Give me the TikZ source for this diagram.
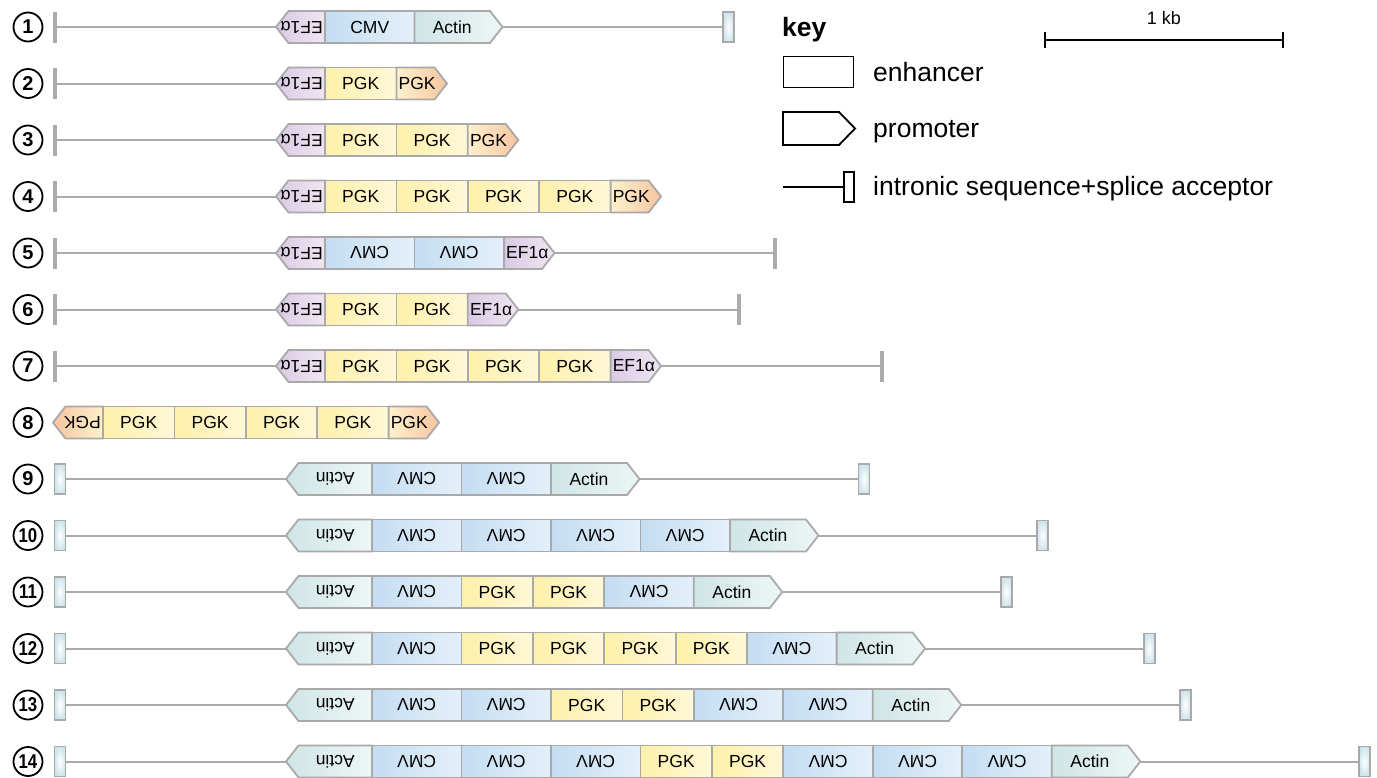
\documentclass[tikz,border=0pt]{standalone}
\usepackage{fontspec}
\setmainfont{Liberation Sans}
\usepackage{graphicx}

\definecolor{cellgray}{HTML}{A9A9A9}
\definecolor{linegray}{HTML}{ABABAB}
\definecolor{efA}{HTML}{DACAE4}
\definecolor{efB}{HTML}{EFE6F2}
\definecolor{cmvA}{HTML}{C4DDF2}
\definecolor{cmvB}{HTML}{E4F0FA}
\definecolor{actA}{HTML}{CFE5E6}
\definecolor{actB}{HTML}{EEF6F6}
\definecolor{pgkA}{HTML}{FFF0AA}
\definecolor{pgkB}{HTML}{FFF8D8}
\definecolor{orA}{HTML}{F5C5A0}
\definecolor{orB}{HTML}{FFF1CC}
\definecolor{boxA}{HTML}{CFE5EC}

\newcommand\cellfont{\fontsize{17.5}{20}\selectfont}
\newcommand\numfont{\bfseries\fontsize{20}{22}\selectfont}
\newcommand\keyfont{\fontsize{26.5}{30}\selectfont}
\newcommand\twod[1]{\scalebox{0.84}[1]{#1}}

% vertical position of construct #1
\newcommand\rowat[1]{\pgfmathsetmacro\ry{27+56.5*(#1-1)}}

% rectangular element: name, style, x1, x2, label, label angle
\newcommand\boxcell[6]{%
  \path[#2] (#3,\ry-16) rectangle (#4,\ry+16);
  \node[lbl, rotate=#6] (#1) at ({(#3+#4)/2},\ry) {#5};}
% element pointing right, label centred in the body
\newcommand\fwdtip[5]{%
  \path[#2] (#3,\ry-16) -- (#4,\ry-16) -- ({#4+12.5},\ry) -- (#4,\ry+16) -- (#3,\ry+16) -- cycle;
  \coordinate (#1-tip) at ({#4+12.5},\ry);
  \node[lbl] (#1) at ({(#3+#4)/2},\ry) {#5};}
% short element pointing right, label set from its flat end
\newcommand\fwdtipsmall[5]{%
  \path[#2] (#3,\ry-16) -- (#4,\ry-16) -- ({#4+12.5},\ry) -- (#4,\ry+16) -- (#3,\ry+16) -- cycle;
  \coordinate (#1-tip) at ({#4+12.5},\ry);
  \node[lbl, anchor=west] (#1) at ({#3+2},\ry) {#5};}
% element pointing left, label upside down and centred in the body
\newcommand\revtip[5]{%
  \path[#2] (#4,\ry-16) -- (#3,\ry-16) -- ({#3-12.5},\ry) -- (#3,\ry+16) -- (#4,\ry+16) -- cycle;
  \coordinate (#1-tip) at ({#3-12.5},\ry);
  \node[lbl, rotate=180] (#1) at ({(#3+#4)/2},\ry) {#5};}
% short element pointing left, upside-down label set from its flat end
\newcommand\revtipsmall[5]{%
  \path[#2] (#4,\ry-16) -- (#3,\ry-16) -- ({#3-12.5},\ry) -- (#3,\ry+16) -- (#4,\ry+16) -- cycle;
  \coordinate (#1-tip) at ({#3-12.5},\ry);
  \node[lbl, rotate=180, anchor=west] (#1) at ({#4-2},\ry) {#5};}

\tikzset{
  cellframe/.style={draw=cellgray, line width=1.8pt, line join=miter},
  ef/.style={cellframe, left color=efA, right color=efB},
  cmv/.style={cellframe, left color=cmvA, right color=cmvB},
  act/.style={cellframe, left color=actA, right color=actB},
  pgk/.style={cellframe, left color=pgkA, right color=pgkB},
  pgkof/.style={cellframe, left color=orB, right color=orA},
  pgkor/.style={cellframe, left color=orA, right color=orB},
  lbl/.style={inner sep=0pt, font=\cellfont},
  strand/.style={draw=linegray, line width=2pt},
  endtick/.style={fill=linegray, inner sep=0pt, minimum width=3.6pt, minimum height=31pt},
  sabox/.style={draw=cellgray, line width=1.8pt, inner color=white, outer color=boxA,
    inner sep=0pt, minimum width=11pt, minimum height=30pt},
  numcirc/.style={circle, draw=black, line width=1.8pt, minimum size=29pt, inner sep=0pt, font=\numfont},
  keyshape/.style={draw=black, line width=1.8pt},
  keytext/.style={inner sep=0pt, font=\keyfont, anchor=base west},
}

\begin{document}
\begin{tikzpicture}[x=1pt, y=-1pt]
\useasboundingbox[fill=white] (0,0) rectangle (1377,777);

% ---------- construct 1
\rowat{1}
\node[numcirc] (n1) at (28,\ry) {1};
\node[endtick] (r1s) at (55,\ry) {};
\revtipsmall{r1c1}{ef}{288.5}{325}{EF1α}
\boxcell{r1c2}{cmv}{325}{414.5}{CMV}{0}
\fwdtip{r1c3}{act}{414.5}{490}{Actin}
\node[sabox] (r1e) at (728.5,\ry) {};
\draw[strand] (r1s) -- (r1c1-tip);
\draw[strand] (r1c3-tip) -- (r1e);

% ---------- construct 2
\rowat{2}
\node[numcirc] (n2) at (28,\ry) {2};
\node[endtick] (r2s) at (55,\ry) {};
\revtipsmall{r2c1}{ef}{288.5}{325}{EF1α}
\boxcell{r2c2}{pgk}{325}{396.4}{PGK}{0}
\fwdtipsmall{r2c3}{pgkof}{396.4}{434.5}{PGK}
\draw[strand] (r2s) -- (r2c1-tip);

% ---------- construct 3
\rowat{3}
\node[numcirc] (n3) at (28,\ry) {3};
\node[endtick] (r3s) at (55,\ry) {};
\revtipsmall{r3c1}{ef}{288.5}{325}{EF1α}
\boxcell{r3c2}{pgk}{325}{396.4}{PGK}{0}
\boxcell{r3c3}{pgk}{396.4}{467.8}{PGK}{0}
\fwdtipsmall{r3c4}{pgkof}{467.8}{505.8}{PGK}
\draw[strand] (r3s) -- (r3c1-tip);

% ---------- construct 4
\rowat{4}
\node[numcirc] (n4) at (28,\ry) {4};
\node[endtick] (r4s) at (55,\ry) {};
\revtipsmall{r4c1}{ef}{288.5}{325}{EF1α}
\boxcell{r4c2}{pgk}{325}{396.4}{PGK}{0}
\boxcell{r4c3}{pgk}{396.4}{467.8}{PGK}{0}
\boxcell{r4c4}{pgk}{467.8}{539.2}{PGK}{0}
\boxcell{r4c5}{pgk}{539.2}{610.6}{PGK}{0}
\fwdtipsmall{r4c6}{pgkof}{610.6}{648.6}{PGK}
\draw[strand] (r4s) -- (r4c1-tip);

% ---------- construct 5
\rowat{5}
\node[numcirc] (n5) at (28,\ry) {5};
\node[endtick] (r5s) at (55,\ry) {};
\revtipsmall{r5c1}{ef}{288.5}{325}{EF1α}
\boxcell{r5c2}{cmv}{325}{414.5}{CMV}{180}
\boxcell{r5c3}{cmv}{414.5}{504}{CMV}{180}
\fwdtipsmall{r5c4}{ef}{504}{542}{EF1α}
\node[endtick] (r5e) at (775,\ry) {};
\draw[strand] (r5s) -- (r5c1-tip);
\draw[strand] (r5c4-tip) -- (r5e);

% ---------- construct 6
\rowat{6}
\node[numcirc] (n6) at (28,\ry) {6};
\node[endtick] (r6s) at (55,\ry) {};
\revtipsmall{r6c1}{ef}{288.5}{325}{EF1α}
\boxcell{r6c2}{pgk}{325}{396.4}{PGK}{0}
\boxcell{r6c3}{pgk}{396.4}{467.8}{PGK}{0}
\fwdtipsmall{r6c4}{ef}{467.8}{505.8}{EF1α}
\node[endtick] (r6e) at (739,\ry) {};
\draw[strand] (r6s) -- (r6c1-tip);
\draw[strand] (r6c4-tip) -- (r6e);

% ---------- construct 7
\rowat{7}
\node[numcirc] (n7) at (28,\ry) {7};
\node[endtick] (r7s) at (55,\ry) {};
\revtipsmall{r7c1}{ef}{288.5}{325}{EF1α}
\boxcell{r7c2}{pgk}{325}{396.4}{PGK}{0}
\boxcell{r7c3}{pgk}{396.4}{467.8}{PGK}{0}
\boxcell{r7c4}{pgk}{467.8}{539.2}{PGK}{0}
\boxcell{r7c5}{pgk}{539.2}{610.6}{PGK}{0}
\fwdtipsmall{r7c6}{ef}{610.6}{648.6}{EF1α}
\node[endtick] (r7e) at (882,\ry) {};
\draw[strand] (r7s) -- (r7c1-tip);
\draw[strand] (r7c6-tip) -- (r7e);

% ---------- construct 8
\rowat{8}
\node[numcirc] (n8) at (28,\ry) {8};
\revtipsmall{r8c1}{pgkor}{65.5}{103}{PGK}
\boxcell{r8c2}{pgk}{103}{174.4}{PGK}{0}
\boxcell{r8c3}{pgk}{174.4}{245.8}{PGK}{0}
\boxcell{r8c4}{pgk}{245.8}{317.2}{PGK}{0}
\boxcell{r8c5}{pgk}{317.2}{388.6}{PGK}{0}
\fwdtipsmall{r8c6}{pgkof}{388.6}{426.6}{PGK}

% ---------- construct 9
\rowat{9}
\node[numcirc] (n9) at (28,\ry) {9};
\node[sabox] (r9s) at (60,\ry) {};
\revtip{r9c1}{act}{298.5}{372}{Actin}
\boxcell{r9c2}{cmv}{372}{461.5}{CMV}{180}
\boxcell{r9c3}{cmv}{461.5}{551}{CMV}{180}
\fwdtip{r9c4}{act}{551}{627}{Actin}
\node[sabox] (r9e) at (864,\ry) {};
\draw[strand] (r9s) -- (r9c1-tip);
\draw[strand] (r9c4-tip) -- (r9e);

% ---------- construct 10
\rowat{10}
\node[numcirc] (n10) at (28,\ry) {\twod{10}};
\node[sabox] (r10s) at (60,\ry) {};
\revtip{r10c1}{act}{298.5}{372}{Actin}
\boxcell{r10c2}{cmv}{372}{461.5}{CMV}{180}
\boxcell{r10c3}{cmv}{461.5}{551}{CMV}{180}
\boxcell{r10c4}{cmv}{551}{640.5}{CMV}{180}
\boxcell{r10c5}{cmv}{640.5}{730}{CMV}{180}
\fwdtip{r10c6}{act}{730}{806}{Actin}
\node[sabox] (r10e) at (1042.5,\ry) {};
\draw[strand] (r10s) -- (r10c1-tip);
\draw[strand] (r10c6-tip) -- (r10e);

% ---------- construct 11
\rowat{11}
\node[numcirc] (n11) at (28,\ry) {\twod{11}};
\node[sabox] (r11s) at (60,\ry) {};
\revtip{r11c1}{act}{298.5}{372}{Actin}
\boxcell{r11c2}{cmv}{372}{461.5}{CMV}{180}
\boxcell{r11c3}{pgk}{461.5}{532.9}{PGK}{0}
\boxcell{r11c4}{pgk}{532.9}{604.3}{PGK}{0}
\boxcell{r11c5}{cmv}{604.3}{693.8}{CMV}{180}
\fwdtip{r11c6}{act}{693.8}{769.8}{Actin}
\node[sabox] (r11e) at (1006.3,\ry) {};
\draw[strand] (r11s) -- (r11c1-tip);
\draw[strand] (r11c6-tip) -- (r11e);

% ---------- construct 12
\rowat{12}
\node[numcirc] (n12) at (28,\ry) {\twod{12}};
\node[sabox] (r12s) at (60,\ry) {};
\revtip{r12c1}{act}{298.5}{372}{Actin}
\boxcell{r12c2}{cmv}{372}{461.5}{CMV}{180}
\boxcell{r12c3}{pgk}{461.5}{532.9}{PGK}{0}
\boxcell{r12c4}{pgk}{532.9}{604.3}{PGK}{0}
\boxcell{r12c5}{pgk}{604.3}{675.7}{PGK}{0}
\boxcell{r12c6}{pgk}{675.7}{747.1}{PGK}{0}
\boxcell{r12c7}{cmv}{747.1}{836.6}{CMV}{180}
\fwdtip{r12c8}{act}{836.6}{912.6}{Actin}
\node[sabox] (r12e) at (1149.1,\ry) {};
\draw[strand] (r12s) -- (r12c1-tip);
\draw[strand] (r12c8-tip) -- (r12e);

% ---------- construct 13
\rowat{13}
\node[numcirc] (n13) at (28,\ry) {\twod{13}};
\node[sabox] (r13s) at (60,\ry) {};
\revtip{r13c1}{act}{298.5}{372}{Actin}
\boxcell{r13c2}{cmv}{372}{461.5}{CMV}{180}
\boxcell{r13c3}{cmv}{461.5}{551}{CMV}{180}
\boxcell{r13c4}{pgk}{551}{622.4}{PGK}{0}
\boxcell{r13c5}{pgk}{622.4}{693.8}{PGK}{0}
\boxcell{r13c6}{cmv}{693.8}{783.3}{CMV}{180}
\boxcell{r13c7}{cmv}{783.3}{872.8}{CMV}{180}
\fwdtip{r13c8}{act}{872.8}{948.8}{Actin}
\node[sabox] (r13e) at (1185.3,\ry) {};
\draw[strand] (r13s) -- (r13c1-tip);
\draw[strand] (r13c8-tip) -- (r13e);

% ---------- construct 14
\rowat{14}
\node[numcirc] (n14) at (28,\ry) {\twod{14}};
\node[sabox] (r14s) at (60,\ry) {};
\revtip{r14c1}{act}{298.5}{372}{Actin}
\boxcell{r14c2}{cmv}{372}{461.5}{CMV}{180}
\boxcell{r14c3}{cmv}{461.5}{551}{CMV}{180}
\boxcell{r14c4}{cmv}{551}{640.5}{CMV}{180}
\boxcell{r14c5}{pgk}{640.5}{711.9}{PGK}{0}
\boxcell{r14c6}{pgk}{711.9}{783.3}{PGK}{0}
\boxcell{r14c7}{cmv}{783.3}{872.8}{CMV}{180}
\boxcell{r14c8}{cmv}{872.8}{962.3}{CMV}{180}
\boxcell{r14c9}{cmv}{962.3}{1051.8}{CMV}{180}
\fwdtip{r14c10}{act}{1051.8}{1127.8}{Actin}
\node[sabox] (r14e) at (1364.3,\ry) {};
\draw[strand] (r14s) -- (r14c1-tip);
\draw[strand] (r14c10-tip) -- (r14e);

% ---------- key
\node[inner sep=0pt, font=\bfseries\keyfont, anchor=base west] (keyhead) at (782,36) {key};
\node[keyshape, inner sep=0pt, minimum width=70pt, minimum height=31pt] (kenh) at (818.5,72) {};
\node[keytext] (kenhT) at (873,81) {enhancer};
\path[keyshape] (783,112) -- (839,112) -- (855,128.5) -- (839,145) -- (783,145) -- cycle;
\node[keytext] (kproT) at (873,137) {promoter};
\node[keyshape, inner sep=0pt, minimum width=10pt, minimum height=30pt] (kbox) at (849,187) {};
\coordinate (kline) at (783,187);
\draw[line width=1.8pt] (kline) -- (kbox.west);
\node[keytext] (kintT) at (873,195) {intronic sequence+splice acceptor};

% ---------- scale bar
\coordinate (sbL) at (1045,40);
\coordinate (sbR) at (1283,40);
\draw[line width=2pt] (sbL) -- (sbR);
\draw[line width=2pt] ([yshift=8pt]sbL) -- ([yshift=-8pt]sbL);
\draw[line width=2pt] ([yshift=8pt]sbR) -- ([yshift=-8pt]sbR);
\node[inner sep=0pt, font=\fontsize{18}{20}\selectfont] (sbT) at (1164,18) {1 kb};
\end{tikzpicture}
\end{document}
